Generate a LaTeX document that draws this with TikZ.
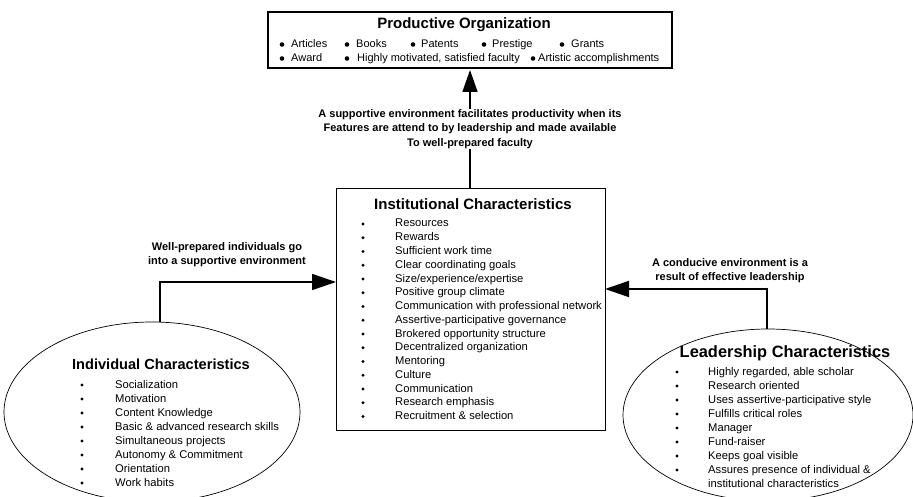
\documentclass[tikz,border=0pt]{standalone}
\usepackage{fontspec}
\setmainfont{Liberation Sans}
\usetikzlibrary{arrows.meta,shapes.geometric}
\tikzset{
  item/.style={anchor=base west,inner sep=0pt,font=\fontsize{11.2}{13}\selectfont},
  bul/.style={circle,fill=black,inner sep=0pt,minimum size=3.4pt},
  bigbul/.style={circle,fill=black,inner sep=0pt,minimum size=4.6pt},
  lbl/.style={align=center,inner sep=1pt,font=\bfseries\fontsize{11}{14.3}\selectfont},
  ttl/.style={inner sep=0pt,font=\bfseries\fontsize{15}{17}\selectfont},
  conn/.style={line width=1.6pt,-{Triangle[length=24pt,width=16pt]}},
}
\begin{document}
\begin{tikzpicture}[x=1pt,y=-1pt]
\useasboundingbox (0,0) rectangle (913,497);
% top box
\node[draw,line width=2.4pt,minimum width=404pt,minimum height=56pt,inner sep=0pt] (prod) at (470,40) {};
\node[ttl] (prodt) at (464,25) {Productive Organization};
\foreach \bx/\tx/\yy/\t in {282/291/44/Articles,347/356/44/Books,413/421/44/Patents,484/492/44/Prestige,562/571/44/Grants,282/291/58/Award,347/357/58/{Highly motivated, satisfied faculty},533/538/58/Artistic accomplishments}{
  \node[bigbul] at (\bx,\yy+0.5) {};
  \node[item,font=\fontsize{11}{12}\selectfont] at (\tx,\yy+4) {\t};
}
% institutional box
\node[draw,line width=0.8pt,minimum width=269pt,minimum height=242pt,inner sep=0pt] (inst) at (470.5,309) {};
\node[ttl] (instt) at (473,204) {Institutional Characteristics};
\foreach \t [count=\i from 0] in {Resources,Rewards,Sufficient work time,Clear coordinating goals,Size/experience/expertise,Positive group climate,Communication with professional network,Assertive-participative governance,Brokered opportunity structure,Decentralized organization,Mentoring,Culture,Communication,Research emphasis,Recruitment \& selection}{
  \node[bul] at (363,224+13.75*\i) {};
  \node[item] at (395,227+13.75*\i) {\t};
}
% individual ellipse
\node[draw,ellipse,line width=0.7pt,minimum width=296pt,minimum height=180pt,inner sep=0pt] (ind) at (152,412) {};
\node[ttl,font=\bfseries\fontsize{14.6}{16}\selectfont] (indt) at (161,364) {Individual Characteristics};
\foreach \t [count=\i from 0] in {Socialization,Motivation,Content Knowledge,Basic \& advanced research skills,Simultaneous projects,Autonomy \& Commitment,Orientation,Work habits}{
  \node[bul] at (82,385+14*\i) {};
  \node[item] at (115,388+14*\i) {\t};
}
% leadership ellipse
\node[draw,ellipse,line width=0.7pt,minimum width=290pt,minimum height=172pt,inner sep=0pt] (lead) at (768,415) {};
\node[ttl,font=\bfseries\fontsize{16.4}{18}\selectfont] (leadt) at (785,353) {Leadership Characteristics};
\foreach \t [count=\i from 0] in {{Highly regarded, able scholar},Research oriented,Uses assertive-participative style,Fulfills critical roles,Manager,Fund-raiser,Keeps goal visible,Assures presence of individual \&}{
  \node[bul] at (677,372+14*\i) {};
  \node[item] at (708,375+14*\i) {\t};
}
\node[item] (leadx) at (708,487) {institutional characteristics};
% connectors
\coordinate (indtop) at (160,322);
\coordinate (indbend) at (160,282);
\coordinate (instl) at (336,282);
\draw[conn] (indtop) -- (indbend) -- (instl);
\coordinate (leadtop) at (767,329);
\coordinate (leadbend) at (767,289);
\coordinate (instr) at (605,289);
\draw[conn] (leadtop) -- (leadbend) -- (instr);
\coordinate (insttop) at (470,188);
\coordinate (prodbot) at (470,70);
\draw[conn,-{Triangle[length=22pt,width=15pt]}] (insttop) -- (prodbot);
% labels
\node[lbl,fill=white] (mid) at (470,129) {A supportive environment facilitates productivity when its\\Features are attend to by leadership and made available\\To well-prepared faculty};
\node[lbl] (ll) at (227,255) {Well-prepared individuals go\\into a supportive environment};
\node[lbl] (rl) at (730,271) {A conducive environment is a\\result of effective leadership};
\end{tikzpicture}
\end{document}
